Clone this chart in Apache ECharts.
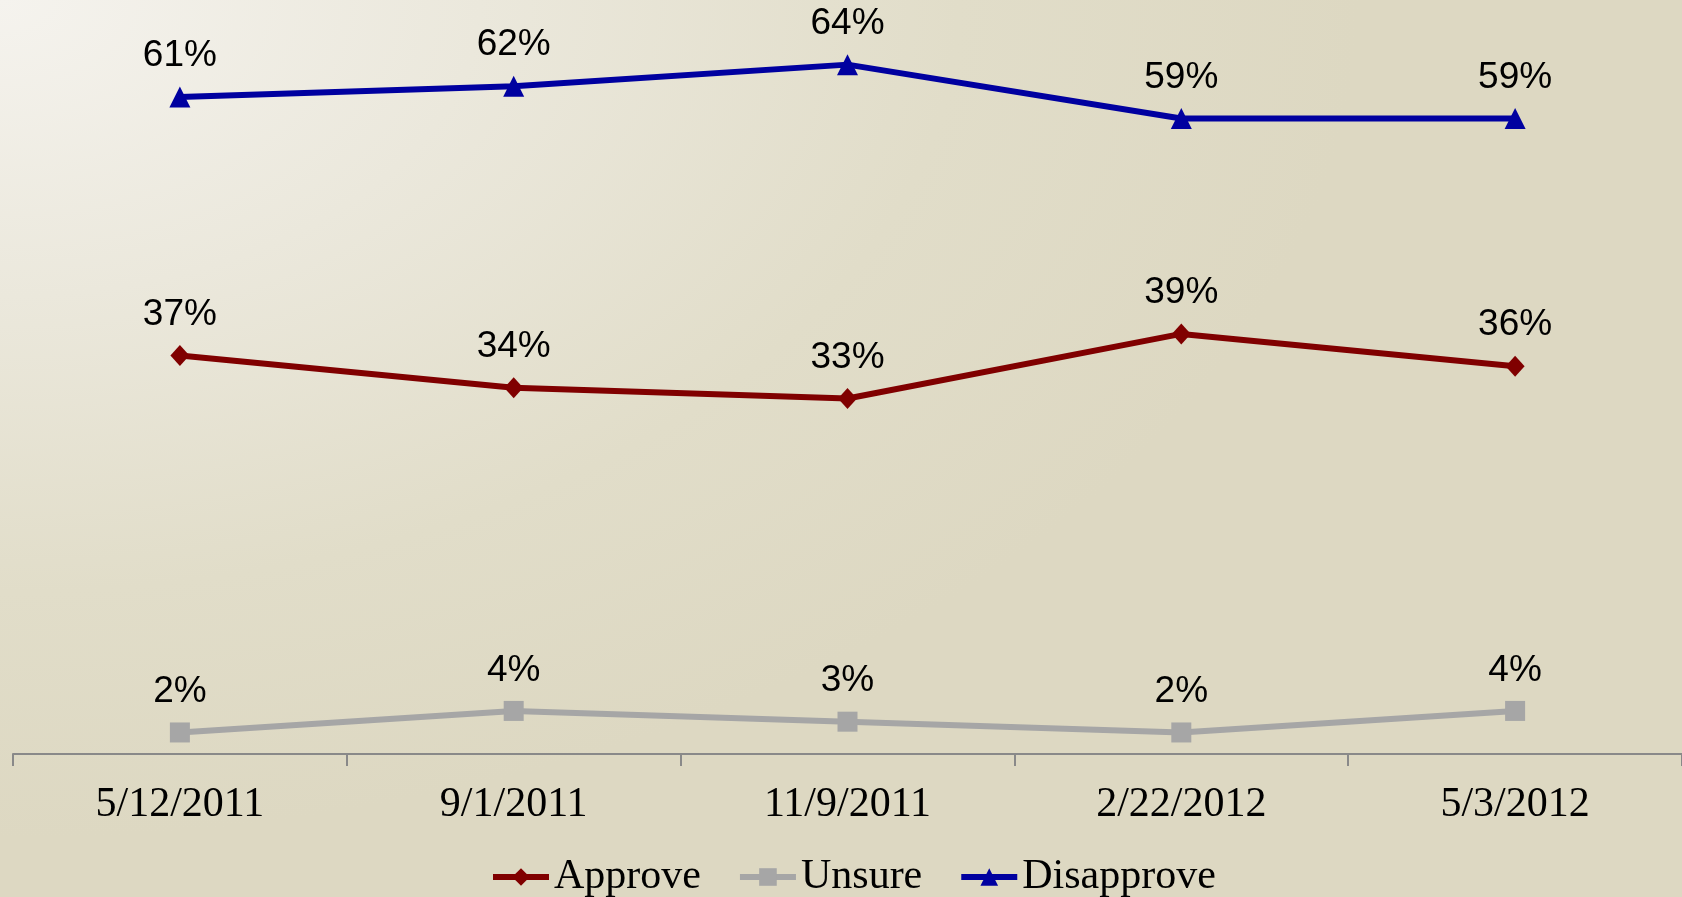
<!DOCTYPE html>
<html>
<head>
<meta charset="utf-8">
<script src="https://cdn.jsdelivr.net/npm/echarts@6/dist/echarts.min.js"></script>
<style>
  html, body { margin: 0; padding: 0; }
  body {
    width: 1682px; height: 897px; overflow: hidden;
    background: radial-gradient(ellipse 95% 110% at 0% 0%, #f5f3ee 0%, #ebe8dc 30%, #e1ddc9 60%, #ddd8c2 85%);
  }
  #chart { width: 1682px; height: 897px; }
</style>
</head>
<body>
<div id="chart"></div>
<script>
const categories = ['5/12/2011', '9/1/2011', '11/9/2011', '2/22/2012', '5/3/2012'];
const approve = [37, 34, 33, 39, 36];
const unsure = [2, 4, 3, 2, 4];
const disapprove = [61, 62, 64, 59, 59];

const chart = echarts.init(document.getElementById('chart'), null, { renderer: 'canvas' });

function lineSeries(name, data, color, symbol, size) {
  return {
    name: name,
    type: 'line',
    data: data,
    symbol: symbol,
    symbolSize: size,
    showAllSymbol: true,
    lineStyle: { color: color, width: 6 },
    itemStyle: { color: color },
    label: {
      show: true,
      position: 'top',
      distance: 12,
      formatter: '{c}%',
      color: '#000',
      fontFamily: '"Liberation Sans", Arial, sans-serif',
      fontSize: 37
    },
    emphasis: { disabled: true },
    animation: false
  };
}

chart.setOption({
  backgroundColor: 'transparent',
  animation: false,
  grid: { left: 13, right: 0, top: 0, bottom: 143, containLabel: false },
  legend: {
    data: ['Approve', 'Unsure', 'Disapprove'],
    left: 490,
    top: 856,
    padding: 0,
    itemGap: 36,
    itemWidth: 56,
    itemHeight: 22,
    lineStyle: { width: 6 },
    textStyle: {
      color: '#000',
      fontFamily: '"Liberation Serif", "Times New Roman", serif',
      fontSize: 42
    }
  },
  xAxis: {
    type: 'category',
    data: categories,
    boundaryGap: true,
    axisLine: { lineStyle: { color: '#898989', width: 2 } },
    axisTick: { show: true, length: 12, lineStyle: { color: '#898989', width: 2 } },
    axisLabel: {
      margin: 30,
      color: '#000',
      fontFamily: '"Liberation Serif", "Times New Roman", serif',
      fontSize: 42
    },
    splitLine: { show: false }
  },
  yAxis: {
    type: 'value',
    min: 0,
    max: 70,
    show: false,
    splitLine: { show: false }
  },
  series: [
    lineSeries('Approve', approve, '#800000', 'diamond', [19, 21]),
    lineSeries('Unsure', unsure, '#a6a6a6', 'rect', 20),
    lineSeries('Disapprove', disapprove, '#0000a0', 'triangle', 21)
  ]
});
</script>
</body>
</html>
